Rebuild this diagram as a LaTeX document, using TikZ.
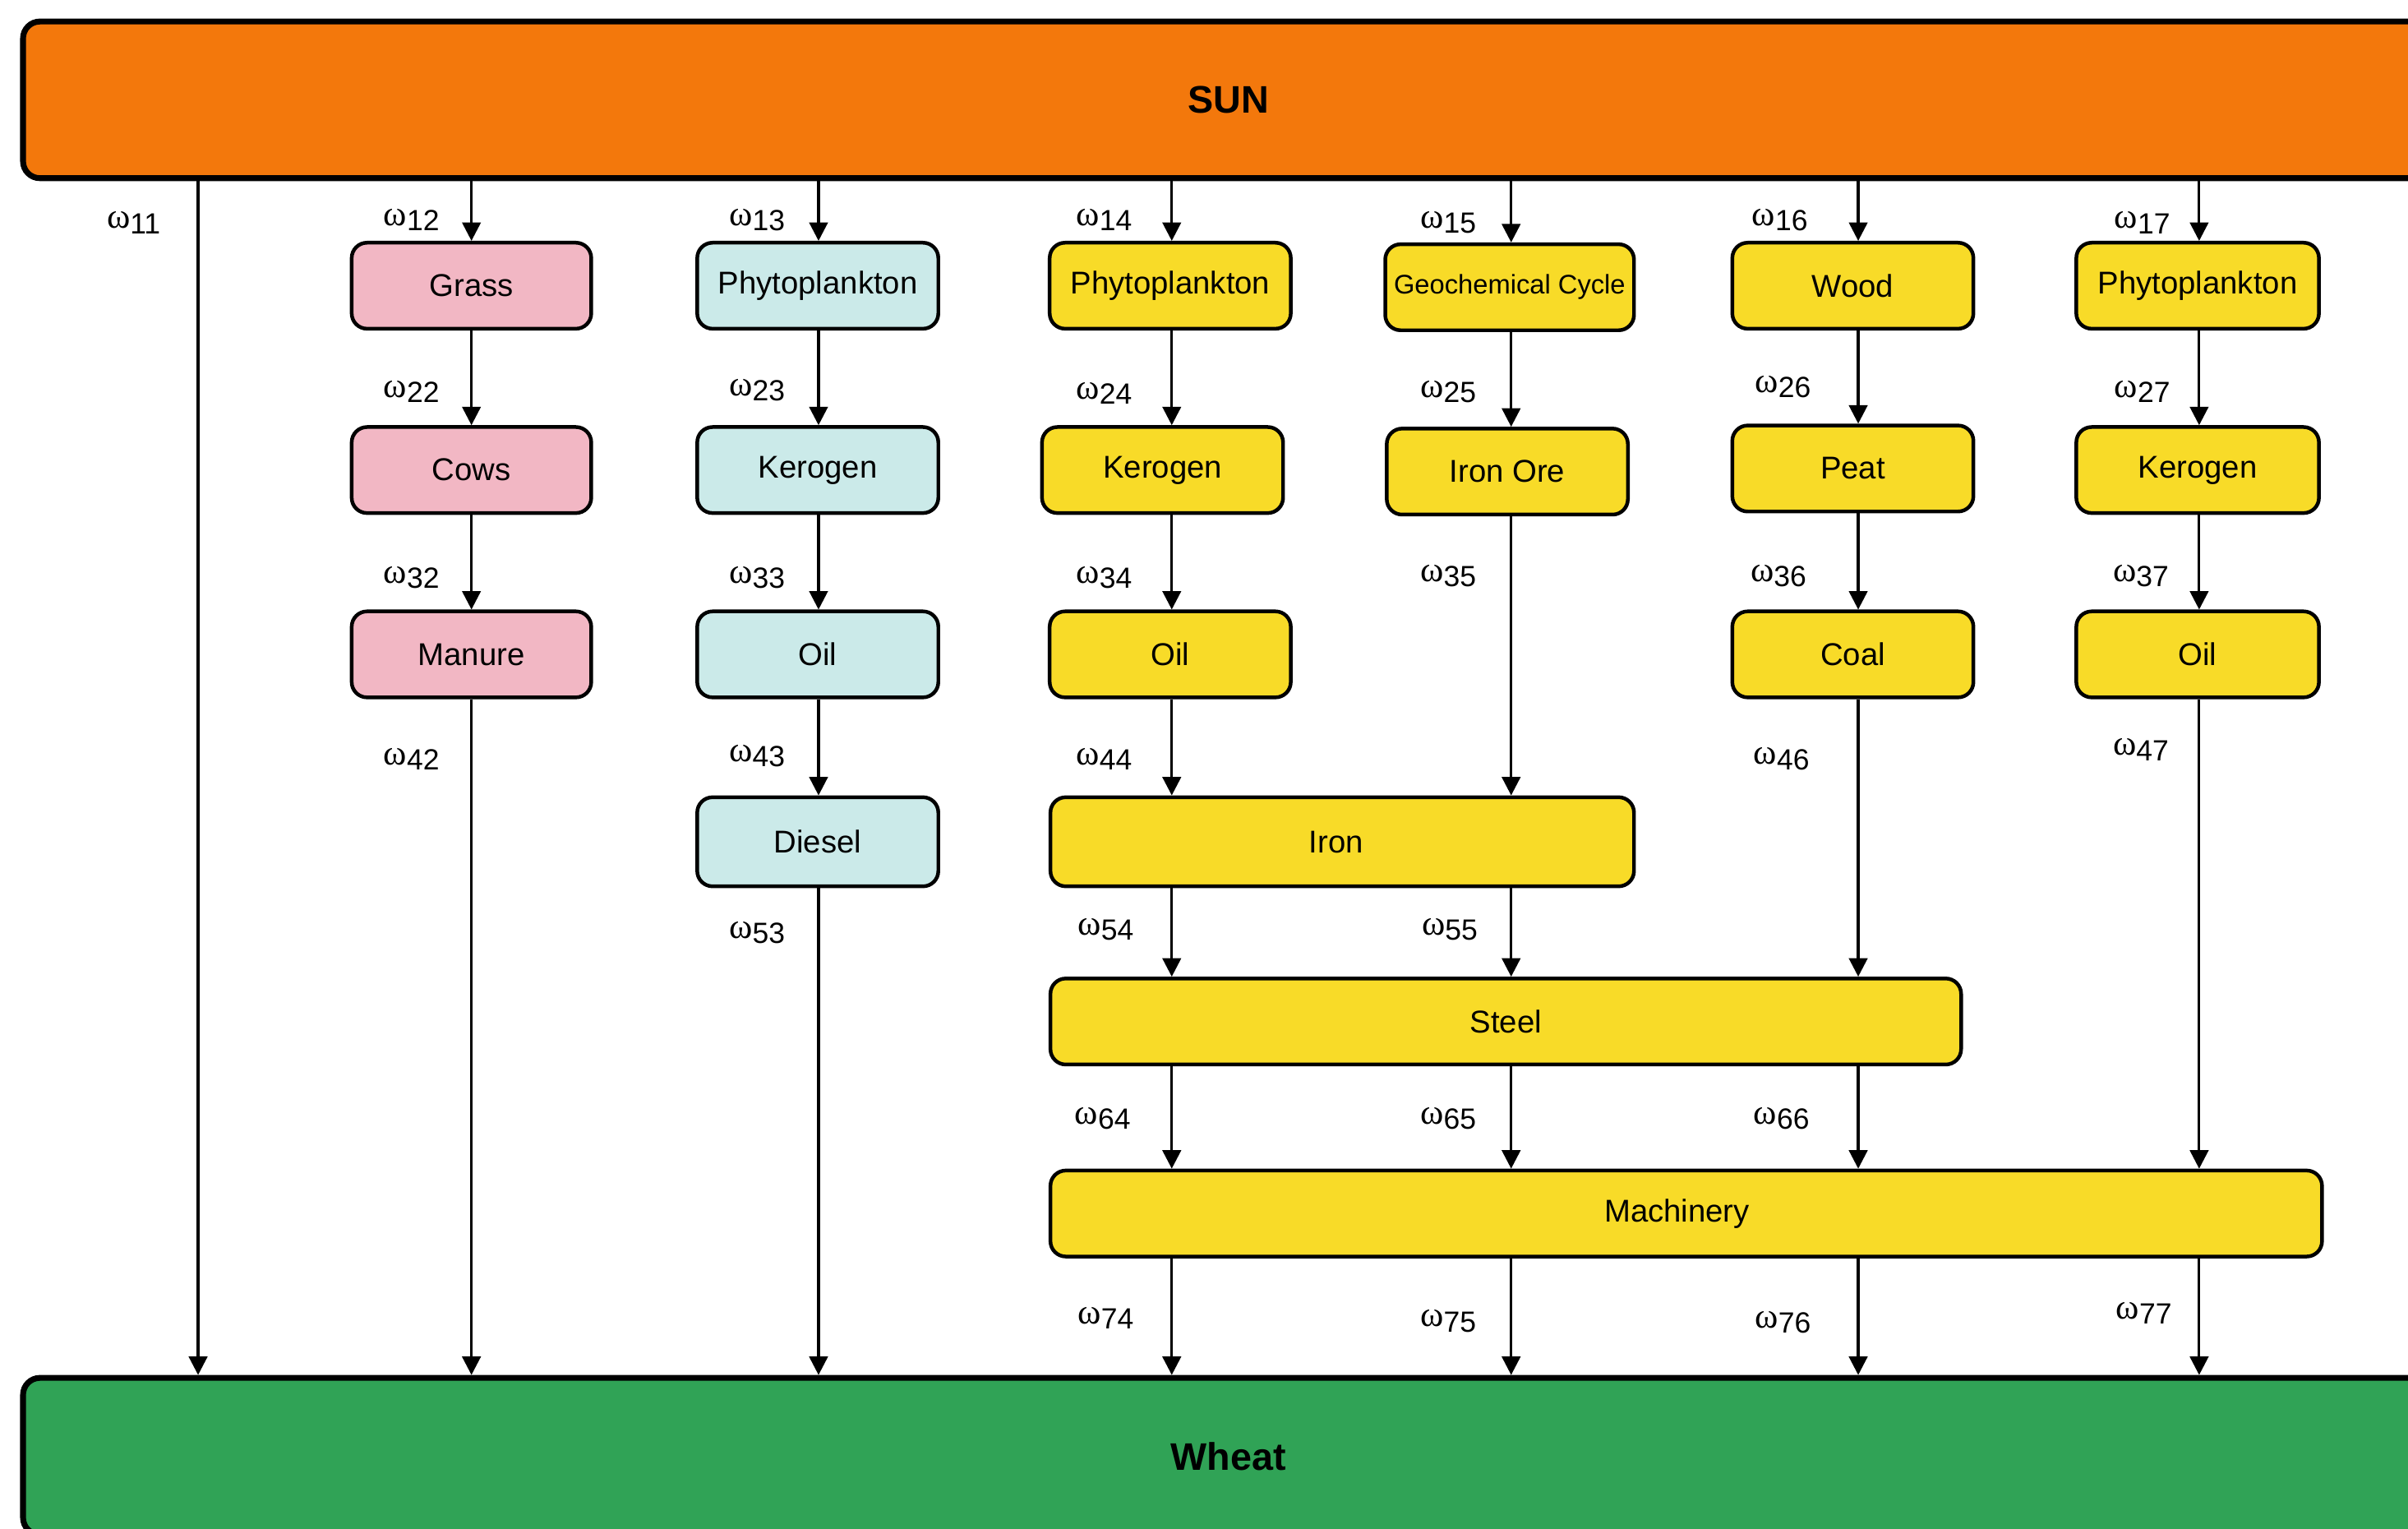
\documentclass[tikz,border=0pt]{standalone}
\usepackage{fontspec}
\setmainfont{Liberation Sans}
\newfontfamily\grk{Liberation Serif}
\usetikzlibrary{arrows.meta}

\definecolor{sunorange}{RGB}{243,120,12}
\definecolor{wheatgreen}{RGB}{48,163,86}
\definecolor{boxpink}{RGB}{242,183,196}
\definecolor{boxcyan}{RGB}{203,234,233}
\definecolor{boxyellow}{RGB}{248,219,40}

% flow weight label: omega with a subscript index
\newcommand\om[1]{{\grk\fontsize{23}{23}\selectfont ω}\raisebox{-0.33em}{\fontsize{19}{19}\selectfont #1}}

\begin{document}
\begin{tikzpicture}[x=1pt,y=-1pt,
  bigbar/.style={draw=black, line width=3.8pt, rounded corners=11pt, inner sep=0pt,
    font=\fontsize{25}{30}\selectfont\bfseries},
  stage/.style={draw=black, line width=2.4pt, rounded corners=10pt, inner sep=0pt,
    minimum height=56pt, font=\fontsize{20.5}{24}\selectfont},
  pinkbox/.style={stage, fill=boxpink, minimum width=156pt},
  cyanbox/.style={stage, fill=boxcyan, minimum width=157pt},
  yellowbox/.style={stage, fill=boxyellow, minimum width=157pt},
  arr/.style={line width=1.7pt, -{Triangle[length=12pt,width=12pt]}},
  wlab/.style={inner sep=0pt}]

\useasboundingbox (0,0) rectangle (1568,995);
\clip (0,0) rectangle (1568,995);

% source and sink bars
\node[bigbar, fill=sunorange, minimum width=1570pt, minimum height=102pt] (sun) at (800,65) {SUN};
\node[bigbar, fill=wheatgreen, minimum width=1570pt, minimum height=102pt] (wheat) at (800,948) {Wheat};

% column axes
\coordinate (c1) at (129,0);
\coordinate (c2) at (307,0);
\coordinate (c3) at (533,0);
\coordinate (c4) at (763,0);
\coordinate (c5) at (984,0);
\coordinate (c6) at (1210,0);
\coordinate (c7) at (1432,0);

% livestock chain
\node[pinkbox] (grass)  at (307,186) {Grass};
\node[pinkbox] (cows)   at (307,306) {Cows};
\node[pinkbox] (manure) at (307,426) {Manure};

% diesel chain
\node[cyanbox] (phyA)   at (532.5,186) {Phytoplankton};
\node[cyanbox] (kerA)   at (532.5,306) {Kerogen};
\node[cyanbox] (oilA)   at (532.5,426) {Oil};
\node[cyanbox, minimum height=58pt] (diesel) at (532.5,548) {Diesel};

% machinery chain
\node[yellowbox] (phyB)   at (762,186) {Phytoplankton};
\node[yellowbox] (kerB)   at (757,306) {Kerogen};
\node[yellowbox] (oilB)   at (762,426) {Oil};
\node[yellowbox, minimum width=162pt, font=\fontsize{17.5}{20}\selectfont] (geo) at (983,187) {Geochemical Cycle};
\node[yellowbox] (ironore) at (981.5,307) {Iron Ore};
\node[yellowbox] (wood)   at (1206.5,186) {Wood};
\node[yellowbox] (peat)   at (1206.5,305) {Peat};
\node[yellowbox] (coal)   at (1206.5,426) {Coal};
\node[yellowbox, minimum width=158pt] (phyC) at (1431,186) {Phytoplankton};
\node[yellowbox, minimum width=158pt] (kerC) at (1431,306) {Kerogen};
\node[yellowbox, minimum width=158pt] (oilC) at (1431,426) {Oil};
\node[yellowbox, minimum width=380pt, minimum height=58pt] (iron) at (874,548) {\hspace*{-8pt}Iron};
\node[yellowbox, minimum width=593pt] (steel) at (980.5,665) {Steel};
\node[yellowbox, minimum width=828pt] (mach) at (1098,790) {\hspace*{-12pt}Machinery};

% flows
\draw[arr] (c1 |- sun.south) -- (c1 |- wheat.north);

\draw[arr] (c2 |- sun.south) -- (c2 |- grass.north);
\draw[arr] (c2 |- grass.south) -- (c2 |- cows.north);
\draw[arr] (c2 |- cows.south) -- (c2 |- manure.north);
\draw[arr] (c2 |- manure.south) -- (c2 |- wheat.north);

\draw[arr] (c3 |- sun.south) -- (c3 |- phyA.north);
\draw[arr] (c3 |- phyA.south) -- (c3 |- kerA.north);
\draw[arr] (c3 |- kerA.south) -- (c3 |- oilA.north);
\draw[arr] (c3 |- oilA.south) -- (c3 |- diesel.north);
\draw[arr] (c3 |- diesel.south) -- (c3 |- wheat.north);

\draw[arr] (c4 |- sun.south) -- (c4 |- phyB.north);
\draw[arr] (c4 |- phyB.south) -- (c4 |- kerB.north);
\draw[arr] (c4 |- kerB.south) -- (c4 |- oilB.north);
\draw[arr] (c4 |- oilB.south) -- (c4 |- iron.north);
\draw[arr] (c4 |- iron.south) -- (c4 |- steel.north);
\draw[arr] (c4 |- steel.south) -- (c4 |- mach.north);
\draw[arr] (c4 |- mach.south) -- (c4 |- wheat.north);

\draw[arr] (c5 |- sun.south) -- (c5 |- geo.north);
\draw[arr] (c5 |- geo.south) -- (c5 |- ironore.north);
\draw[arr] (c5 |- ironore.south) -- (c5 |- iron.north);
\draw[arr] (c5 |- iron.south) -- (c5 |- steel.north);
\draw[arr] (c5 |- steel.south) -- (c5 |- mach.north);
\draw[arr] (c5 |- mach.south) -- (c5 |- wheat.north);

\draw[arr] (c6 |- sun.south) -- (c6 |- wood.north);
\draw[arr] (c6 |- wood.south) -- (c6 |- peat.north);
\draw[arr] (c6 |- peat.south) -- (c6 |- coal.north);
\draw[arr] (c6 |- coal.south) -- (c6 |- steel.north);
\draw[arr] (c6 |- steel.south) -- (c6 |- mach.north);
\draw[arr] (c6 |- mach.south) -- (c6 |- wheat.north);

\draw[arr] (c7 |- sun.south) -- (c7 |- phyC.north);
\draw[arr] (c7 |- phyC.south) -- (c7 |- kerC.north);
\draw[arr] (c7 |- kerC.south) -- (c7 |- oilC.north);
\draw[arr] (c7 |- oilC.south) -- (c7 |- mach.north);
\draw[arr] (c7 |- mach.south) -- (c7 |- wheat.north);

% flow weights
\foreach \x/\y/\n in {
  87/145/11,
  268/143/12, 268/255/22, 268/376/32, 268/494/42,
  493/143/13, 493/254/23, 493/376/33, 493/492/43, 493/607/53,
  719/143/14, 719/256/24, 719/376/34, 719/494/44, 720/605/54, 718/728/64, 720/858/74,
  943/145/15, 943/255/25, 943/375/35, 944/605/55, 943/728/65, 943/860/75,
  1159/143/16, 1161/252/26, 1158/375/36, 1160/494/46, 1160/728/66, 1161/861/76,
  1395/145/17, 1395/255/27, 1394/375/37, 1394/488/47, 1396/855/77}
  \node[wlab] (w\n) at (\x,\y) {\om{\n}};

\end{tikzpicture}
\end{document}
